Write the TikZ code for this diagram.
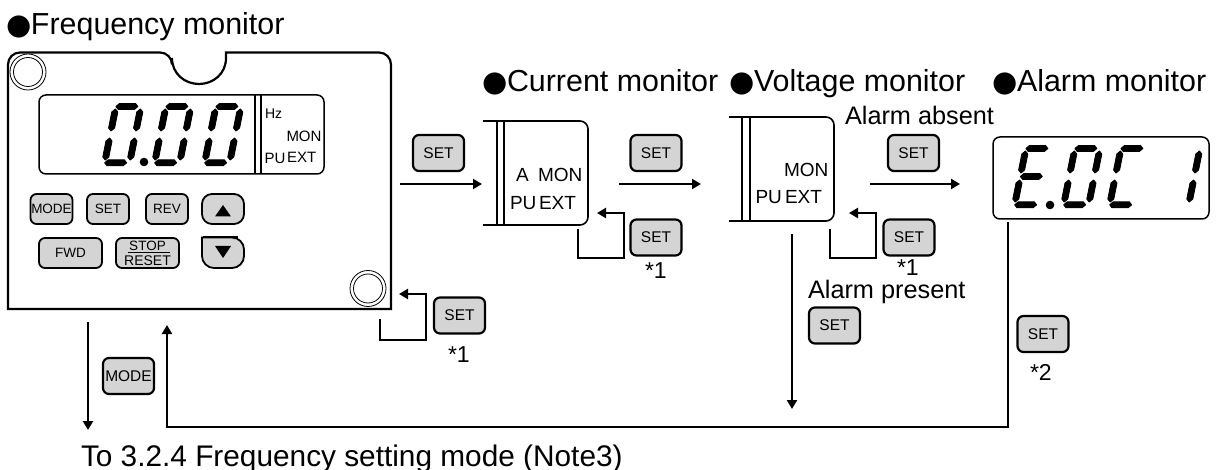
\documentclass[tikz,border=0pt]{standalone}
\usepackage{fontspec}
\setmainfont{Liberation Sans}
\newfontfamily\djv{DejaVu Sans}
\usetikzlibrary{arrows.meta}
\newcommand\fsz[1]{\fontsize{#1}{#1}\selectfont}
\newcommand\blt{\makebox[22pt][l]{\hspace*{-2.2pt}\djv\fontsize{29}{29}\selectfont ●}}
\newcommand\sh[3]{\filldraw[line width=.9pt,line join=round] (#1,#3) -- (#1+3,#3+3) -- (#2-3,#3+3) -- (#2,#3) -- (#2-3,#3-3) -- (#1+3,#3-3) -- cycle;}
\newcommand\sv[3]{\filldraw[line width=.9pt,line join=round] (#1,#2) -- (#1+3,#2+3) -- (#1+3,#3-3) -- (#1,#3) -- (#1-3,#3-3) -- (#1-3,#2+3) -- cycle;}
\newcommand\sega{\sh{3}{25}{59.5}}
\newcommand\segb{\sv{28}{35}{57}}
\newcommand\segc{\sv{28}{6}{28}}
\newcommand\segd{\sh{3}{25}{3.2}}
\newcommand\sege{\sv{3}{6}{28}}
\newcommand\segf{\sv{3}{35}{57}}
\newcommand\segg{\sh{3}{25}{31.5}}
\newcommand\digitat[3]{\begin{scope}[shift={(#1,#2)},x=1pt,y=1pt,xslant=.2]\foreach \s in {#3}{\csname seg\s\endcsname}\end{scope}}
\tikzset{
  every node/.style={inner sep=0pt,outer sep=0pt,text=black},
  hd/.style={anchor=base west,font=\fsz{30.4}},
  lab/.style={anchor=base west,font=\fsz{25.3}},
  star/.style={anchor=base west,font=\fsz{23}},
  tiny/.style={anchor=base west,font=\fsz{15}},
  lcd/.style={anchor=base west,font=\fsz{19}},
  btn/.style={draw=black,fill=btngray,rounded corners=6pt,line width=2.2pt,minimum width=51pt,minimum height=36pt,font=\fsz{15.5}},
  pbtn/.style={draw=black,fill=btngray,rounded corners=6pt,line width=1.8pt,minimum height=30pt,font=\fsz{13.5}},
  disp/.style={draw=black,rounded corners=7pt,line width=1.5pt},
  conn/.style={line width=2.4pt,-{Triangle[length=9pt,width=10pt]}},
  shell/.style={line width=1.6pt,rounded corners=8pt},
  thinring/.style={line width=.8pt}
}
\definecolor{btngray}{RGB}{212,212,212}
\begin{document}
\begin{tikzpicture}[x=1pt,y=-1pt]
\useasboundingbox (0,0) rectangle (1217,470);
% headings
\node[hd] (hf) at (9,35) {\blt Frequency monitor};
\node[hd] (hc) at (485,92) {\blt Current monitor};
\node[hd] (hv) at (732,92) {\blt Voltage monitor};
\node[hd] (ha) at (995,92) {\blt Alarm monitor};
\node[lab] (labs) at (845,125) {Alarm absent};
\node[lab] (lpre) at (808,298) {Alarm present};
\node[hd,font=\fsz{29.8}] (hto) at (81,466) {To 3.2.4 Frequency setting mode (Note3)};
% main panel
\draw[line width=2.2pt] (8,180) [rounded corners=12pt] -- (8,52.5) -- (172,52.5) [sharp corners] -- (172,58) .. controls (172,74) and (185,84) .. (199,84) .. controls (213,84) and (226,74) .. (226,58) -- (226,52.5) [rounded corners=12pt] -- (391,52.5) -- (391,180) [sharp corners] -- (391,309) -- (8,309) -- cycle;
\draw[thinring] (28,72) circle[radius=18pt] (28,72) circle[radius=14.5pt];
\draw[thinring] (368,288.5) circle[radius=18pt] (368,288.5) circle[radius=14.5pt];
% panel display
\node[disp,minimum width=285pt,minimum height=79pt] (d1) at (181.5,134.5) {};
\draw[line width=1.5pt] (255,95) -- (255,174) (261,95) -- (261,174);
\digitat{101}{166}{a,b,c,d,e,f}
\digitat{151}{166}{a,b,c,d,e,f}
\digitat{201}{166}{a,b,c,d,e,f}
\fill (144,162) circle[radius=4.3pt];
\node[tiny,font=\fsz{14}] (thz) at (265,118.5) {Hz};
\node[tiny] (tmon) at (286.5,141.5) {MON};
\node[tiny] (tpu) at (264.5,164) {PU};
\node[tiny] (text) at (287,163) {EXT};
% panel buttons
\node[pbtn,minimum width=42pt] (bmode) at (51.5,209) {MODE};
\node[pbtn,minimum width=42pt] (bset) at (108,209) {SET};
\node[pbtn,minimum width=42pt] (brev) at (167,209) {REV};
\node[pbtn,minimum width=42pt,rounded corners=10pt] (bup) at (223,209) {};
\node[pbtn,minimum width=63pt] (bfwd) at (70.5,253) {FWD};
\node[pbtn,minimum width=63pt] (bstop) at (147.5,253) {};
\node[font=\fsz{13.5}] (tstop) at (147.5,245.5) {STOP};
\node[font=\fsz{14}] (treset) at (147.5,260.5) {RESET};
\draw[line width=1pt] (128,252.5) -- (170,252.5);
\fill (223,205) -- (231,216.5) -- (215,216.5) -- cycle;
\draw[line width=1.8pt,fill=btngray,rounded corners=12pt] (202,237.5) -- (202,268) -- (244,268) -- (244,237.5) [sharp corners] -- cycle;
\draw[line width=2.5pt] (203,237) -- (238,237);
\fill (215,246) -- (231,246) -- (223,258) -- cycle;
% current shell
\draw[shell] (483,121) -- (588,121) -- (588,225) -- (483,225);
\draw[line width=1.3pt] (497,121) -- (497,225) (504,121) -- (504,225);
\node[lcd] (ca) at (516,182) {A};
\node[lcd] (cmon) at (538,182) {MON};
\node[lcd] (cpu) at (510,210) {PU};
\node[lcd] (cext) at (539,210) {EXT};
% voltage shell
\draw[shell] (729,117) -- (834,117) -- (834,221) -- (729,221);
\draw[line width=1.3pt] (742,117) -- (742,221) (750,117) -- (750,221);
\node[lcd] (vmon) at (784,177) {MON};
\node[lcd] (vpu) at (755.5,204) {PU};
\node[lcd] (vext) at (785,204) {EXT};
% alarm display
\node[disp,minimum width=216pt,minimum height=82pt] (d2) at (1101,178) {};
\digitat{1011}{208}{a,d,e,f,g}
\digitat{1060}{208}{a,b,c,d,e,f}
\digitat{1106}{208}{a,d,e,f}
\digitat{1160}{208}{b,c}
\fill (1050,205) circle[radius=4.3pt];
% SET buttons
\node[btn] (s1) at (438.5,153) {SET};
\node[btn] (s2) at (656,153) {SET};
\node[btn] (s3) at (656,237.5) {SET};
\node[btn] (s4) at (459.5,315.5) {SET};
\node[btn] (s5) at (913.5,153) {SET};
\node[btn] (s6) at (909,237.5) {SET};
\node[btn] (s7) at (834.5,325.5) {SET};
\node[btn] (s8) at (1043,334) {SET};
\node[btn] (s9) at (128.5,376) {MODE};
\node[star] (n1) at (645,278) {*1};
\node[star] (n2) at (897,276) {*1};
\node[star] (n3) at (448,362) {*1};
\node[star] (n4) at (1030,380) {*2};
% connector ends
\coordinate (a1s) at (400,184); \coordinate (a1e) at (482,184);
\coordinate (a2s) at (619,184); \coordinate (a2e) at (701,184);
\coordinate (a3s) at (870,184); \coordinate (a3e) at (960,184);
\coordinate (f1s) at (578,229); \coordinate (f1a) at (578,258); \coordinate (f1b) at (624,258); \coordinate (f1c) at (624,213); \coordinate (f1e) at (597,213);
\coordinate (f2s) at (830,229); \coordinate (f2a) at (830,258); \coordinate (f2b) at (876,258); \coordinate (f2c) at (876,213); \coordinate (f2e) at (849,213);
\coordinate (f3s) at (380,319); \coordinate (f3a) at (380,340); \coordinate (f3b) at (426,340); \coordinate (f3c) at (426,294); \coordinate (f3e) at (399,294);
\coordinate (ms) at (88,322); \coordinate (me) at (88,430);
\coordinate (ps) at (792,234); \coordinate (pe) at (792,409);
\coordinate (rs) at (1008,222); \coordinate (ra) at (1008,427); \coordinate (rb) at (167,427); \coordinate (re) at (167,325);
\draw[conn] (a1s) -- (a1e);
\draw[conn] (a2s) -- (a2e);
\draw[conn] (a3s) -- (a3e);
\draw[conn] (f1s) -- (f1a) -- (f1b) -- (f1c) -- (f1e);
\draw[conn] (f2s) -- (f2a) -- (f2b) -- (f2c) -- (f2e);
\draw[conn] (f3s) -- (f3a) -- (f3b) -- (f3c) -- (f3e);
\draw[conn] (ms) -- (me);
\draw[conn] (ps) -- (pe);
\draw[conn] (rs) -- (ra) -- (rb) -- (re);
\end{tikzpicture}
\end{document}
